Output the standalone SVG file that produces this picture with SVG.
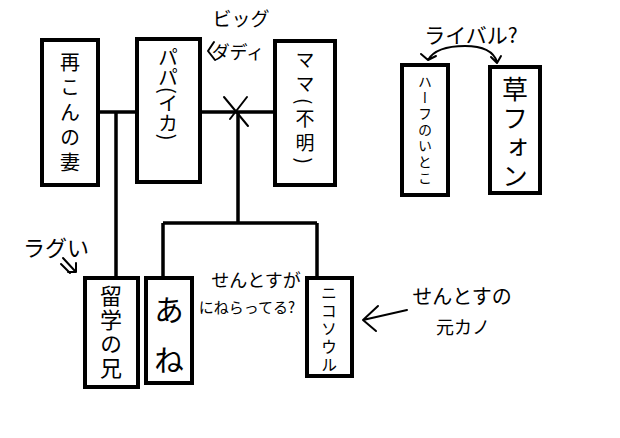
<svg xmlns="http://www.w3.org/2000/svg" width="620" height="438" viewBox="0 0 620 438">
<style>
.box{fill:#fff;stroke:#000;stroke-width:4}
.ln{fill:none;stroke:#000;stroke-width:3.5}
.an{fill:none;stroke:#000;stroke-width:2;stroke-linecap:round;stroke-linejoin:round}
.v{font-family:"Noto Sans CJK JP","Noto Sans",sans-serif;writing-mode:vertical-rl;fill:#000}
.t{font-family:"Noto Sans CJK JP","Noto Sans",sans-serif;fill:#000;text-anchor:middle}
</style>
<rect width="620" height="438" fill="#fff"/>
<g id="connectors">
<path class="ln" d="M98 112H137M200 112H275M116 112V278M238 112V223M163 223H317M163 223V278M317 223V278"/>
<path class="an" d="M224 97L248 126M247 97L230 119"/>
<path class="an" d="M428 60Q436 46 465 46Q492 46 497 62M421 54L428 60L436 56M491 57L497 63L501 56"/>
<path class="an" d="M407 310L363 320M378 306L363 320L376 331"/>
<path class="an" d="M63 258L75 271M68 272H76V263M61 264L70 273"/>
<path class="an" d="M214 42L208 51L215 60"/>
</g>
<g id="n-saikon">
<rect class="box" x="42" y="40" width="56" height="145"/>
<text class="v" x="70" y="52" font-size="20" letter-spacing="5">再こんの妻</text>
</g>
<g id="n-papa">
<rect class="box" x="137" y="39" width="63" height="143"/>
<text class="v" x="168" y="47" font-size="20">パパ(イカ)</text>
</g>
<g id="n-mama">
<rect class="box" x="275" y="41" width="60" height="144"/>
<text class="v" x="305" y="50" font-size="19" letter-spacing="5">ママ(不明)</text>
</g>
<g id="n-half">
<rect class="box" x="402" y="65" width="46" height="130"/>
<text class="v" x="425" y="75" font-size="14" letter-spacing="2">ハーフのいとこ</text>
</g>
<g id="n-kusa">
<rect class="box" x="490" y="67" width="50" height="126"/>
<text class="v" x="515" y="76" font-size="26" letter-spacing="3">草フォン</text>
</g>
<g id="n-ryugaku">
<rect class="box" x="85" y="278" width="53" height="109"/>
<text class="v" x="111" y="285" font-size="22" letter-spacing="2">留学の兄</text>
</g>
<g id="n-ane">
<rect class="box" x="146" y="278" width="46" height="105"/>
<text class="v" x="169" y="295" font-size="30" letter-spacing="20">あね</text>
</g>
<g id="n-niko">
<rect class="box" x="307" y="278" width="45" height="98"/>
<text class="v" x="329" y="285" font-size="16" letter-spacing="2">ニコソウル</text>
</g>
<g id="labels">
<text class="t" x="241" y="26" font-size="19">ビッグ</text>
<text class="t" x="238" y="59" font-size="18">ダディ</text>
<text class="t" x="471" y="43" font-size="21">ライバル?</text>
<text class="t" x="56" y="256" font-size="22">ラグい</text>
<text class="t" x="256" y="287" font-size="18">せんとすが</text>
<text class="t" x="247" y="313" font-size="15">にねらってる?</text>
<text class="t" x="462" y="304" font-size="20">せんとすの</text>
<text class="t" x="463" y="334" font-size="18">元カノ</text>
</g>
</svg>
